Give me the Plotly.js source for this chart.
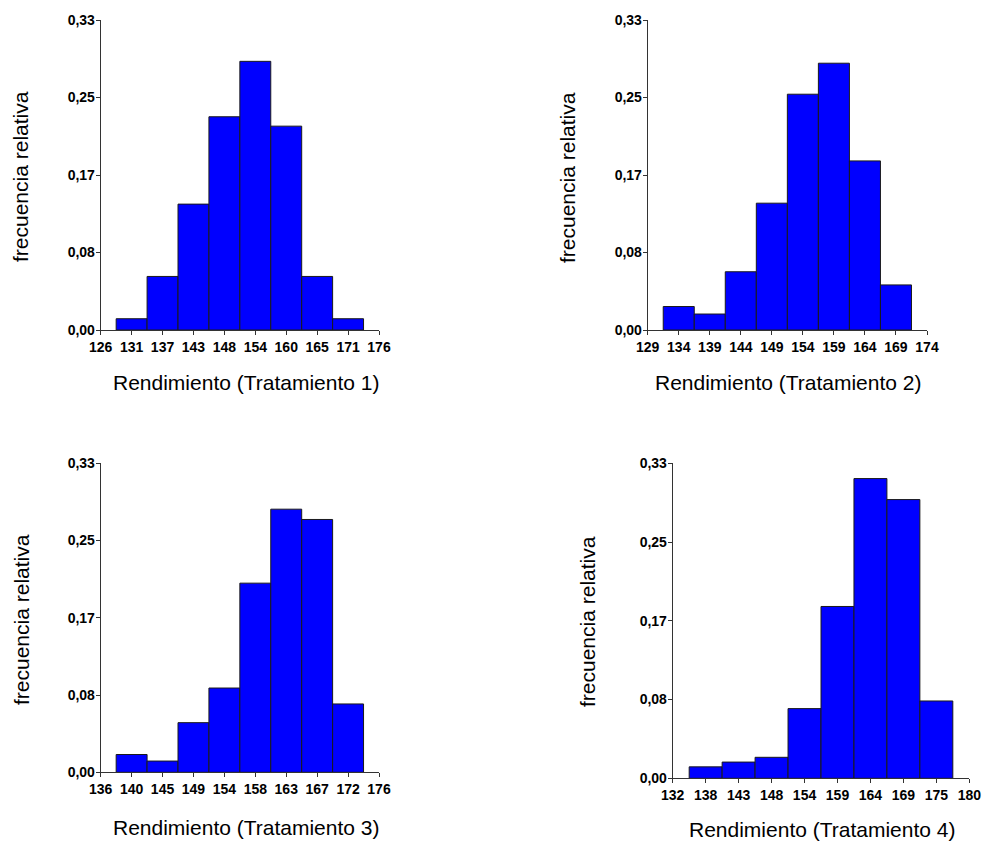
<!DOCTYPE html>
<html>
<head>
<meta charset="utf-8">
<script src="https://cdn.plot.ly/plotly-3.0.1.min.js"></script>
<style>html,body{margin:0;padding:0;background:#fff;}#chart{width:987px;height:845px;}</style>
</head>
<body>
<div id="chart"></div>
<script>
// Tick labels of the x axes (bars are centered on the 2nd..9th ticks)
const ticks1 = ["126","131","137","143","148","154","160","165","171","176"];
const ticks2 = ["129","134","139","144","149","154","159","164","169","174"];
const ticks3 = ["136","140","145","149","154","158","163","167","172","176"];
const ticks4 = ["132","138","143","148","154","159","164","169","175","180"];

// Relative frequencies of each bin
const freq1 = [0.012, 0.057, 0.134, 0.227, 0.286, 0.217, 0.057, 0.012];
const freq2 = [0.025, 0.017, 0.062, 0.135, 0.251, 0.284, 0.180, 0.048];
const freq3 = [0.019, 0.012, 0.053, 0.090, 0.202, 0.281, 0.270, 0.073];
const freq4 = [0.012, 0.017, 0.022, 0.073, 0.180, 0.314, 0.292, 0.081];

const yTickVals = [0, 0.0825, 0.165, 0.2475, 0.33];
const yTickText = ["0,00","0,08","0,17","0,25","0,33"];

const xTitles = ["Rendimiento (Tratamiento 1)","Rendimiento (Tratamiento 2)","Rendimiento (Tratamiento 3)","Rendimiento (Tratamiento 4)"];
const yTitle = "frecuencia relativa";

const W = 987, H = 845;
const panels = [
  {ticks: ticks1, freq: freq1, x0: 100.7, x1: 379, y0: 20,    y1: 330,   xt: [246, 383], yt: [21, 177]},
  {ticks: ticks2, freq: freq2, x0: 647.7, x1: 927, y0: 20,    y1: 330,   xt: [788, 383], yt: [567, 178]},
  {ticks: ticks3, freq: freq3, x0: 100.7, x1: 379, y0: 463.3, y1: 772.3, xt: [246, 827], yt: [21, 620]},
  {ticks: ticks4, freq: freq4, x0: 672.7, x1: 969.3, y0: 463.3, y1: 778.3, xt: [822, 829], yt: [587, 622]}
];

const data = [];
const layout = {
  width: W, height: H,
  margin: {l: 0, r: 0, t: 0, b: 0},
  paper_bgcolor: "#ffffff",
  plot_bgcolor: "rgba(0,0,0,0)",
  showlegend: false,
  font: {family: "Liberation Sans, Arial, sans-serif", color: "#000"},
  annotations: []
};

panels.forEach((p, i) => {
  const n = i + 1;
  const xa = n === 1 ? "x" : "x" + n;
  const ya = n === 1 ? "y" : "y" + n;
  data.push({
    type: "bar",
    x: p.freq.map((_, k) => k + 1),
    y: p.freq,
    width: 1,
    xaxis: xa, yaxis: ya,
    marker: {color: "#0000FF", line: {color: "#1a1a1a", width: 1}},
    hoverinfo: "y"
  });
  const tickFont = {family: "Liberation Sans, Arial, sans-serif", size: 14, color: "#000", weight: "bold"};
  layout["xaxis" + (n === 1 ? "" : n)] = {
    domain: [p.x0 / W, p.x1 / W],
    anchor: ya,
    range: [0, p.ticks.length - 1],
    tickmode: "array",
    tickvals: p.ticks.map((_, k) => k),
    ticktext: p.ticks,
    ticks: "outside", ticklen: 4, tickwidth: 1, tickcolor: "#333",
    showline: true, linecolor: "#333", linewidth: 1,
    showgrid: false, zeroline: false,
    tickfont: tickFont
  };
  layout["yaxis" + (n === 1 ? "" : n)] = {
    domain: [1 - p.y1 / H, 1 - p.y0 / H],
    anchor: xa,
    range: [0, 0.33],
    tickmode: "array",
    tickvals: yTickVals,
    ticktext: yTickText,
    ticks: "outside", ticklen: 4, tickwidth: 1, tickcolor: "#333",
    ticklabelstandoff: -2,
    showline: true, linecolor: "#333", linewidth: 1,
    showgrid: false, zeroline: false,
    tickfont: tickFont
  };
  layout.annotations.push({
    text: xTitles[i], xref: "paper", yref: "paper",
    x: p.xt[0] / W, y: 1 - p.xt[1] / H, xanchor: "center", yanchor: "middle",
    showarrow: false, font: {size: 21, color: "#000"}
  });
  layout.annotations.push({
    text: yTitle, xref: "paper", yref: "paper", textangle: -90,
    x: p.yt[0] / W, y: 1 - p.yt[1] / H, xanchor: "center", yanchor: "middle",
    showarrow: false, font: {size: 21, color: "#000"}
  });
});

Plotly.newPlot("chart", data, layout, {displayModeBar: false, staticPlot: true});
</script>
</body>
</html>
